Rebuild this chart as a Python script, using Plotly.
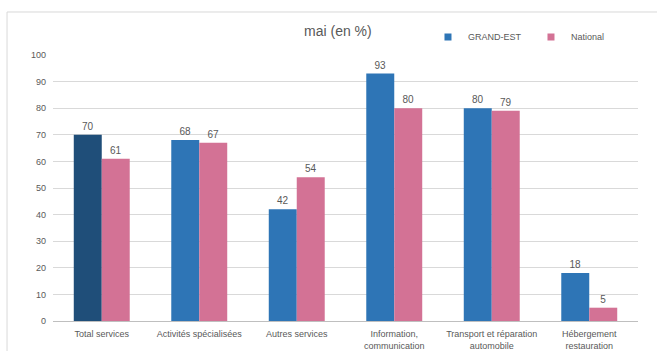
import plotly.graph_objects as go

categories = ["Total services", "Activités spécialisées", "Autres services",
              "Information,<br>communication", "Transport et réparation<br>automobile",
              "Hébergement<br>restauration"]
grand_est = [70, 68, 42, 93, 80, 18]
national = [61, 67, 54, 80, 79, 5]
ge_colors = ["#1F4E79", "#2E75B6", "#2E75B6", "#2E75B6", "#2E75B6", "#2E75B6"]
BLUE = "#2E75B6"
PINK = "#D37295"

FONT = "Liberation Sans Narrow, Arial Narrow, Liberation Sans, Arial, sans-serif"
GRAY = "#595959"

fig = go.Figure()
fig.add_trace(go.Bar(
    name="GRAND-EST", x=categories, y=grand_est, showlegend=False,
    marker=dict(color=ge_colors, line=dict(width=0)),
    text=[str(v) for v in grand_est], textposition="outside",
    textfont=dict(size=10, color=GRAY, family=FONT), cliponaxis=False,
))
fig.add_trace(go.Bar(
    name="National", x=categories, y=national, showlegend=False,
    marker=dict(color=PINK, line=dict(width=0)),
    text=[str(v) for v in national], textposition="outside",
    textfont=dict(size=10, color=GRAY, family=FONT), cliponaxis=False,
))
# legend-only entries with small square markers
for nm, col in [("GRAND-EST", BLUE), ("National", PINK)]:
    fig.add_trace(go.Scatter(
        name=nm, x=[categories[0]], y=[None], mode="markers",
        marker=dict(symbol="square", size=7, color=col), showlegend=True,
    ))

fig.update_layout(
    width=657, height=351,
    margin=dict(l=53, r=19, t=55, b=30),
    paper_bgcolor="white", plot_bgcolor="white",
    font=dict(family=FONT, size=9, color=GRAY),
    barmode="group", bargap=0.426, bargroupgap=0,
    title=dict(text="mai (en %)", x=0.487, xref="paper", y=0.912, yanchor="middle",
               xanchor="center", font=dict(size=14, color=GRAY, family=FONT)),
    legend=dict(orientation="h", x=0.641, xanchor="left", y=1.068, yanchor="middle",
                font=dict(size=9, color=GRAY, family=FONT), entrywidth=58,
                itemwidth=30, bgcolor="rgba(0,0,0,0)"),
    xaxis=dict(showgrid=False, showline=False, ticks="", automargin=False,
               tickfont=dict(size=9, color=GRAY), ticklabelstandoff=6),
    yaxis=dict(range=[0, 100], dtick=10, showgrid=True, gridcolor="#D9D9D9", gridwidth=1,
               zeroline=True, zerolinecolor="#BFBFBF", zerolinewidth=1, automargin=False,
               showline=False, ticks="", tickfont=dict(size=9, color=GRAY), ticklabelstandoff=6),
    shapes=[dict(type="rect", xref="paper", yref="paper", x0=-0.0786, x1=1.1, y0=-0.3, y1=1.1617,
                 line=dict(color="#D9D9D9", width=1), fillcolor="rgba(0,0,0,0)", layer="below")],
)

fig.write_html("out.html")
